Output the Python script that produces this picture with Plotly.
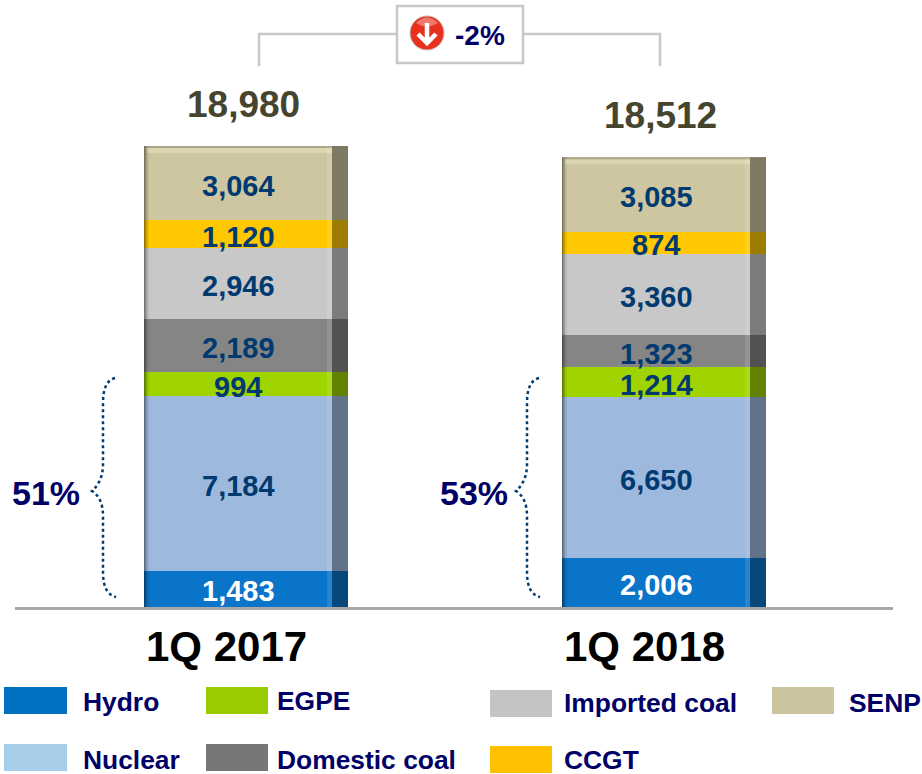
import plotly.graph_objects as go

periods = ["1Q 2017", "1Q 2018"]
totals = [18980, 18512]
hydro = [1483, 2006]
nuclear = [7184, 6650]
egpe = [994, 1214]
domestic_coal = [2189, 1323]
imported_coal = [2946, 3360]
ccgt = [1120, 874]
senp = [3064, 3085]
share_labels = ["51%", "53%"]
change_label = "-2%"

series = [
    ("Hydro", hydro, "#0A74C8", "#FFFFFF"),
    ("Nuclear", nuclear, "#9DB9DD", "#003A70"),
    ("EGPE", egpe, "#A0D400", "#003A70"),
    ("Domestic coal", domestic_coal, "#858585", "#003A70"),
    ("Imported coal", imported_coal, "#C8C8C8", "#003A70"),
    ("CCGT", ccgt, "#FFC800", "#003A70"),
    ("SENP", senp, "#CEC6A0", "#003A70"),
]

W, H = 922, 774
L, R, B = 15, 893, 607
NAVY = "#000066"
GREY = "#C8C8C8"
FONT = "Liberation Sans, Arial, sans-serif"
X_UNIT = 418.0
BAR_W = 204.0
Y_SCALE = 461.0 / 18980


def px(x):
    return (x - L) / (R - L)


def py(y):
    return (B - y) / B


fig = go.Figure()
shapes = []
ann = []

cum = [0, 0]
for name, vals, color, tc in series:
    fig.add_trace(go.Bar(
        x=periods, y=vals, name=name, marker=dict(color=color, line=dict(width=0)),
        showlegend=False, cliponaxis=False,
    ))
    for i, v in enumerate(vals):
        ann.append(dict(x=periods[i], y=cum[i] + v / 2, xref="x", yref="y", text=f"<b>{v:,}</b>",
                        showarrow=False, xshift=-8, yshift=-2.5, yanchor="middle",
                        font=dict(family=FONT, size=29, color=tc)))
        cum[i] += v


def rect_data(i, x0, x1, y0, y1, color):
    """Shading on a bar: offsets in px from bar centre, heights from the data."""
    shapes.append(dict(type="rect", xref="x", yref="y", x0=i + x0 / X_UNIT, x1=i + x1 / X_UNIT,
                       y0=y0, y1=y1, fillcolor=color, line=dict(width=0), layer="above"))


for i, total in enumerate(totals):
    half = BAR_W / 2
    rect_data(i, half - 16, half, 0, total, "rgba(0,0,0,0.38)")
    rect_data(i, half - 21, half - 16, 0, total, "rgba(255,255,255,0.12)")
    rect_data(i, -half, -half + 1.5, 0, total, "rgba(0,0,0,0.42)")
    rect_data(i, -half + 1.5, -half + 3, 0, total, "rgba(0,0,0,0.22)")
    rect_data(i, -half + 3, -half + 5, 0, total, "rgba(0,0,0,0.08)")
    rect_data(i, -half + 3, half - 16, total - 7 / Y_SCALE, total - 2 / Y_SCALE, "rgba(255,255,225,0.28)")
    rect_data(i, -half, half, total - 2 / Y_SCALE, total, "rgba(120,120,100,0.4)")
    ann.append(dict(x=periods[i], y=total, xref="x", yref="y", text=f"<b>{total:,}</b>", showarrow=False,
                    yanchor="bottom", yshift=19, xshift=-3 if i == 0 else -4,
                    font=dict(family=FONT, size=37, color="#45452F")))
    ann.append(dict(x=periods[i], y=0, xref="x", yref="y", text=f"<b>{periods[i]}</b>", showarrow=False,
                    yanchor="middle", yshift=-39, xshift=-20,
                    font=dict(family=FONT, size=42, color="#000000")))


def brace(xr, xm, xt, yt, ym, yb):
    p = (f"M {px(xr+1)} {py(yt)} Q {px(xm)} {py(yt+3)} {px(xm)} {py(yt+25)} "
         f"L {px(xm)} {py(ym-27)} Q {px(xm)} {py(ym-10)} {px(xt)} {py(ym)} "
         f"Q {px(xm)} {py(ym+7)} {px(xm)} {py(ym+25)} "
         f"L {px(xm)} {py(yb-25)} Q {px(xm)} {py(yb-3)} {px(xr+2)} {py(yb)}")
    shapes.append(dict(type="path", xref="paper", yref="paper", path=p,
                       line=dict(color="#003A70", width=2.5, dash="dot")))


brace(114, 103, 92, 378, 491, 597)
brace(538, 527, 516, 378, 491, 597)


def text_px(x, y, s, size, color=NAVY, anchor="center"):
    ann.append(dict(x=px(x), y=py(y), xref="paper", yref="paper", text=f"<b>{s}</b>", showarrow=False,
                    xanchor=anchor, yanchor="middle", font=dict(family=FONT, size=size, color=color)))


text_px(46, 493, share_labels[0], 34)
text_px(474, 493, share_labels[1], 34)

# Change bracket and box
for pts in ([(259, 66), (259, 34), (397, 34)], [(660, 66), (660, 34), (523, 34)]):
    shapes.append(dict(type="path", xref="paper", yref="paper",
                       path="M " + " L ".join(f"{px(a)} {py(b)}" for a, b in pts),
                       line=dict(color=GREY, width=2.5)))
shapes.append(dict(type="rect", xref="paper", yref="paper", x0=px(397), x1=px(523), y0=py(63), y1=py(6),
                   fillcolor="white", line=dict(color=GREY, width=2.5)))
shapes.append(dict(type="circle", xref="paper", yref="paper", x0=px(410), x1=px(444), y0=py(50), y1=py(16),
                   fillcolor="#E8321E", line=dict(color="#C8C0B8", width=1)))
shapes.append(dict(type="path", xref="paper", yref="paper",
                   path=f"M {px(416)} {py(23)} Q {px(427)} {py(12)} {px(438)} {py(23)} Q {px(427)} {py(30)} {px(416)} {py(23)} Z",
                   fillcolor="rgba(255,255,255,0.35)", line=dict(width=0)))
shapes.append(dict(type="path", xref="paper", yref="paper",
                   path=(f"M {px(427)} {py(23)} L {px(427)} {py(43)} M {px(418)} {py(34)} "
                         f"L {px(427)} {py(43)} L {px(436)} {py(34)}"),
                   line=dict(color="white", width=4.5)))
text_px(480, 35, change_label, 28)

# Legend (drawn by hand to keep its irregular placement)
legend = [
    ("Hydro", "#0070C0", 4, 687, 63, 27, 81, 702),
    ("Nuclear", "#A6CEE9", 4, 744, 63, 27, 81, 760),
    ("EGPE", "#99CC00", 206, 687, 62, 27, 275, 701),
    ("Domestic coal", "#777777", 206, 744, 62, 27, 275, 760),
    ("Imported coal", "#C4C4C4", 490, 690, 62, 27, 562, 703),
    ("CCGT", "#FFC000", 490, 746, 62, 27, 562, 760),
    ("SENP", "#CCC39F", 772, 687, 62, 27, 847, 703),
]
for name, c, x, y, w, h, tx, ty in legend:
    shapes.append(dict(type="rect", xref="paper", yref="paper", x0=px(x), x1=px(x + w), y0=py(y), y1=py(y + h),
                       fillcolor=c, line=dict(width=0)))
    text_px(tx, ty, name, 26.4, anchor="left")

x0_val = (L - 246) / X_UNIT
x1_val = (R - 246) / X_UNIT
fig.update_layout(
    width=W, height=H, barmode="stack", bargap=1 - BAR_W / X_UNIT,
    margin=dict(l=L, r=W - R, t=0, b=H - B, pad=0),
    paper_bgcolor="white", plot_bgcolor="white",
    font=dict(family=FONT),
    xaxis=dict(type="category", range=[x0_val, x1_val], showline=True, linecolor="#A8A8A8", linewidth=3,
               showticklabels=False, ticks="", showgrid=False, zeroline=False),
    yaxis=dict(range=[0, B / Y_SCALE], visible=False, showgrid=False, zeroline=False),
    shapes=shapes, annotations=ann,
)
fig.write_html("out.html", config={"displayModeBar": False},
               post_script="document.body.style.margin='0';document.documentElement.style.overflow='hidden';")
